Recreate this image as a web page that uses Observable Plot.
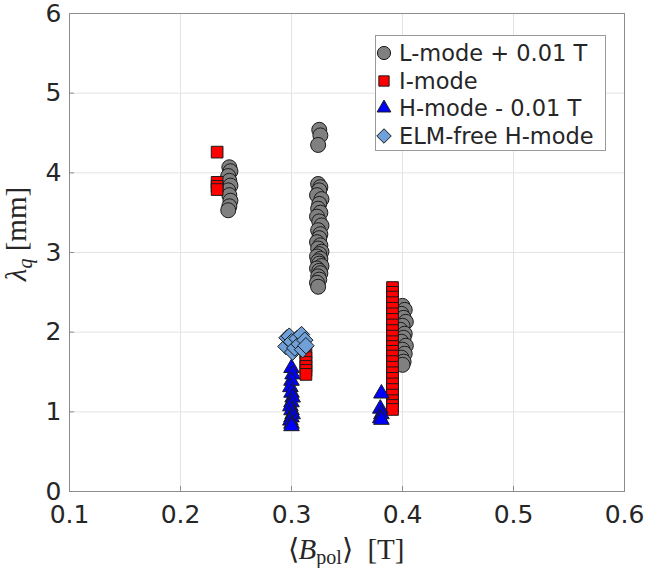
<!DOCTYPE html>
<html>
<head>
<meta charset="utf-8">
<script src="https://cdn.jsdelivr.net/npm/d3@7"></script>
<script src="https://cdn.jsdelivr.net/npm/@observablehq/plot@0.6"></script>
<style>
  body { margin: 0; background: #fff; }
  #wrap { position: relative; width: 647px; height: 568px; }
  .legend { position: absolute; left: 375px; top: 35px; width: 229px; height: 114px;
            border: 1px solid #9a9a9a; background: #fff; font: 22.5px "DejaVu Sans"; color: #262626; }
  .legend .row { position: absolute; left: 0; height: 28px; display: flex; align-items: center; white-space: nowrap; }
  .legend svg { width: 18px; height: 20px; margin-left: -1px; margin-right: 6px; }
</style>
</head>
<body>
<div id="wrap"></div>
<script>
// Poloidal field <B_pol> [T] and heat-flux width lambda_q [mm] per regime
const lmodeB = [
  0.244,0.245,0.243,0.244,0.245,0.243,0.244,0.245,0.244,0.243,
  0.325,0.326,0.324,
  0.324,0.326,0.325,0.323,0.327,0.325,0.324,0.326,0.323,0.325,0.327,0.324,0.326,0.325,0.323,0.326,
  0.324,0.327,0.325,0.323,0.326,0.324,0.325,0.327,0.323,0.325,0.326,0.324,0.325,0.323,0.324,
  0.400,0.402,0.399,0.401,0.403,0.400,0.398,0.402,0.401,0.399,0.403,0.400,0.402,0.399,0.401,0.400
];
const lmodeLambda = [
  4.07,4.02,3.96,3.90,3.84,3.78,3.72,3.65,3.58,3.53,
  4.54,4.47,4.35,
  3.86,3.82,3.78,3.72,3.67,3.61,3.55,3.50,3.45,3.39,3.34,3.28,3.23,3.18,3.13,3.09,
  3.05,3.01,2.98,2.95,2.92,2.89,2.86,2.83,2.80,2.77,2.74,2.70,2.66,2.62,2.57,
  2.33,2.28,2.23,2.18,2.13,2.08,2.03,1.98,1.93,1.88,1.83,1.78,1.73,1.68,1.63,1.59
];

const imodeB = [
  0.233,0.233,0.233,0.233,
  0.313,0.313,0.313,0.313,0.313,0.313,
  0.391,0.391,0.391,0.391,0.391,0.391,0.391,0.391,0.391,0.391,0.391,0.391,
  0.391,0.391,0.391,0.391,0.391,0.391,0.391,0.391,0.391,0.391,0.391,0.391
];
const imodeLambda = [
  4.26,3.88,3.83,3.79,
  1.74,1.68,1.62,1.57,1.52,1.47,
  2.56,2.50,2.44,2.37,2.30,2.23,2.16,2.09,2.02,1.95,1.88,1.82,
  1.76,1.70,1.63,1.56,1.49,1.42,1.35,1.28,1.21,1.14,1.08,1.03
];

const hmodeB = [
  0.300,0.301,0.300,0.299,0.300,0.301,0.300,0.299,0.300,0.301,0.300,0.299,0.300,0.300,
  0.381,0.380,0.381,0.380,0.381
];
const hmodeLambda = [
  1.55,1.47,1.39,1.31,1.24,1.18,1.12,1.07,1.02,0.97,0.93,0.89,0.85,0.82,
  1.23,1.04,0.97,0.92,0.90
];

const elmFreeB = [0.295,0.296,0.298,0.300,0.301,0.303,0.305,0.307,0.309,0.310,0.312,0.313];
const elmFreeLambda = [1.82,1.93,1.95,1.88,1.75,1.80,1.92,1.85,1.97,1.78,1.90,1.83];

const xTicks = [0.1, 0.2, 0.3, 0.4, 0.5, 0.6];
const yTicks = [0, 1, 2, 3, 4, 5, 6];

const series = [
  {name: "L-mode + 0.01 T", B: lmodeB, lambda: lmodeLambda, symbol: "circle", fill: "#808080", r: 7.5},
  {name: "I-mode", B: imodeB, lambda: imodeLambda, symbol: "square", fill: "#ff0000", r: 6.6},
  {name: "H-mode - 0.01 T", B: hmodeB, lambda: hmodeLambda, symbol: "triangle", fill: "#0000ff", r: 5.8},
  {name: "ELM-free H-mode", B: elmFreeB, lambda: elmFreeLambda, symbol: "diamond2", fill: "#6fa0d8", r: 7.4}
];

const rows = s => s.B.map((b, i) => ({B: b, lambda: s.lambda[i]}));

const tickFont = {fontSize: 25, fontFamily: "DejaVu Sans", fill: "#262626"};

const chart = Plot.plot({
  width: 647,
  height: 568,
  marginLeft: 69,
  marginRight: 23,
  marginTop: 13,
  marginBottom: 77,
  style: {background: "#fff", overflow: "visible"},
  x: {domain: [0.1, 0.6], ticks: xTicks},
  y: {domain: [0, 6], ticks: yTicks},
  marks: [
    Plot.gridX(xTicks, {stroke: "#e3e3e3", strokeOpacity: 1}),
    Plot.gridY(yTicks, {stroke: "#e3e3e3", strokeOpacity: 1}),
    Plot.axisX(xTicks, {tickSize: 0, tickPadding: 14, tickFormat: d3.format(".1f"), label: null, ...tickFont}),
    Plot.axisY(yTicks, {tickSize: 0, tickPadding: 8, tickFormat: d3.format("d"), label: null, ...tickFont}),
    Plot.axisX(xTicks, {tickSize: -5, text: null, stroke: "#8c8c8c", label: null}),
    Plot.axisY(yTicks, {tickSize: -5, text: null, stroke: "#8c8c8c", label: null}),
    ...series.map(s => Plot.dot(rows(s), {
      x: "B", y: "lambda", symbol: () => s.symbol, r: s.r,
      fill: s.fill, stroke: "#1a1a1a", strokeWidth: 1
    })),
    Plot.frame({stroke: "#8c8c8c", strokeWidth: 1})
  ]
});

const wrap = document.getElementById("wrap");
wrap.appendChild(chart);

// Axis titles with subscript styling
const svg = d3.select(chart);
const ylab = svg.append("text")
  .attr("transform", "translate(16,234) rotate(-90)")
  .attr("text-anchor", "middle")
  .attr("dy", "0.35em")
  .attr("font-family", "Liberation Serif")
  .attr("font-size", 29)
  .attr("fill", "#262626");
ylab.append("tspan").attr("font-style", "italic").text("λ");
ylab.append("tspan").attr("font-style", "italic").attr("font-size", 20).attr("dy", 6).text("q");
ylab.append("tspan").attr("dy", -6).text(" [mm]");

const xlab = svg.append("text")
  .attr("x", 346).attr("y", 559)
  .attr("text-anchor", "middle")
  .attr("font-family", "Liberation Serif")
  .attr("font-size", 29)
  .attr("fill", "#262626");
xlab.append("tspan").text("⟨");
xlab.append("tspan").attr("font-style", "italic").text("B");
xlab.append("tspan").attr("font-size", 20).attr("dy", 5).text("pol");
xlab.append("tspan").attr("dy", -5).text("⟩  [T]");

// Legend
const legend = document.createElement("div");
legend.className = "legend";
series.forEach((s, i) => {
  const row = document.createElement("div");
  row.className = "row";
  row.style.top = (3 + i * 27.7) + "px";
  const ns = "http://www.w3.org/2000/svg";
  const m = document.createElementNS(ns, "svg");
  m.setAttribute("viewBox", "-9 -10 18 20");
  const p = document.createElementNS(ns, "path");
  const symType = {circle: d3.symbolCircle, square: d3.symbolSquare, triangle: d3.symbolTriangle, diamond2: d3.symbolDiamond2}[s.symbol];
  const rr = s.r * 0.88;
  p.setAttribute("d", d3.symbol(symType, Math.PI * rr * rr)());
  p.setAttribute("fill", s.fill);
  p.setAttribute("stroke", "#1a1a1a");
  p.setAttribute("stroke-width", "1");
  m.appendChild(p);
  row.appendChild(m);
  const t = document.createElement("span");
  t.textContent = s.name;
  row.appendChild(t);
  legend.appendChild(row);
});
wrap.appendChild(legend);
</script>
</body>
</html>
